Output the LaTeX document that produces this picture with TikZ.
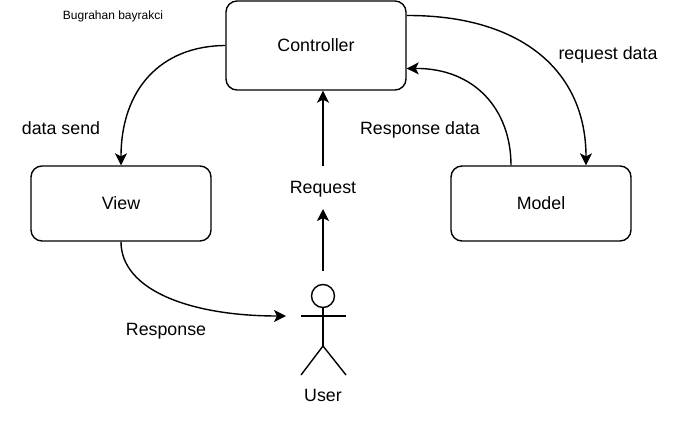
\documentclass[tikz,border=0pt]{standalone}
\usepackage{fontspec}
\setmainfont{Liberation Sans}
\usetikzlibrary{arrows.meta}
\tikzset{
  box/.style={draw, line width=1.4pt, rounded corners=11pt, minimum width=180pt, inner sep=0pt},
  label/.style={font=\fontsize{17.8}{20}\selectfont, inner sep=0pt},
  link/.style={-{Stealth[length=12pt,width=12pt,inset=3pt]}, line width=1.4pt},
  limb/.style={line width=1.4pt}
}
\begin{document}
\begin{tikzpicture}[x=1pt,y=-1pt]
  \useasboundingbox (0,0) rectangle (675,431);
  % boxes
  \node[box, minimum height=89pt, label] (ctrl) at (316,45.5) {Controller};
  \node[box, minimum height=75pt, label] (view) at (121,203.5) {View};
  \node[box, minimum height=75pt, label] (model) at (541,203.5) {Model};

  % labels
  \node[font=\fontsize{12}{14}\selectfont, inner sep=0pt] (author) at (113,16) {Bugrahan bayrakci};
  \node[label] (request) at (323,189.5) {Request};
  \node[label] (datasend) at (61,128) {data send};
  \node[label] (respdata) at (420,129.5) {Response data};
  \node[label] (reqdata) at (608,54.5) {request data};
  \node[label] (response) at (166,331.5) {Response};
  \node[label] (userlabel) at (323,395) {User};

  % user figure
  \node[draw, circle, line width=1.4pt, minimum size=23pt, inner sep=0pt] (head) at (323,296) {};
  \coordinate (hip) at (323,346);
  \coordinate (armleft) at (301,316);
  \coordinate (armright) at (346,316);
  \coordinate (footleft) at (301,375);
  \coordinate (footright) at (346,375);
  \coordinate (userin) at (286,316);
  \coordinate (userout) at (323,271);
  \draw[limb] (head.south) -- (hip);
  \draw[limb] (armleft) -- (armright);
  \draw[limb] (footleft) -- (hip) -- (footright);

  % links
  \draw[link] (ctrl.west) .. controls (160,46) and (121,90) .. (view.north);
  \draw[link] ([yshift=30pt]ctrl.east) .. controls (520,15) and (586,70) .. ([xshift=45pt]model.north);
  \draw[link] ([xshift=-30pt]model.north) .. controls (511,110) and (475,68) .. ([yshift=-23pt]ctrl.east);
  \draw[link] (view.south) .. controls (121,290) and (190,316) .. (userin);
  \draw[link] (request.north |- 0,166) -- (ctrl.south -| request.north);
  \draw[link] (userout) -- (request.south |- 0,209);
\end{tikzpicture}
\end{document}
